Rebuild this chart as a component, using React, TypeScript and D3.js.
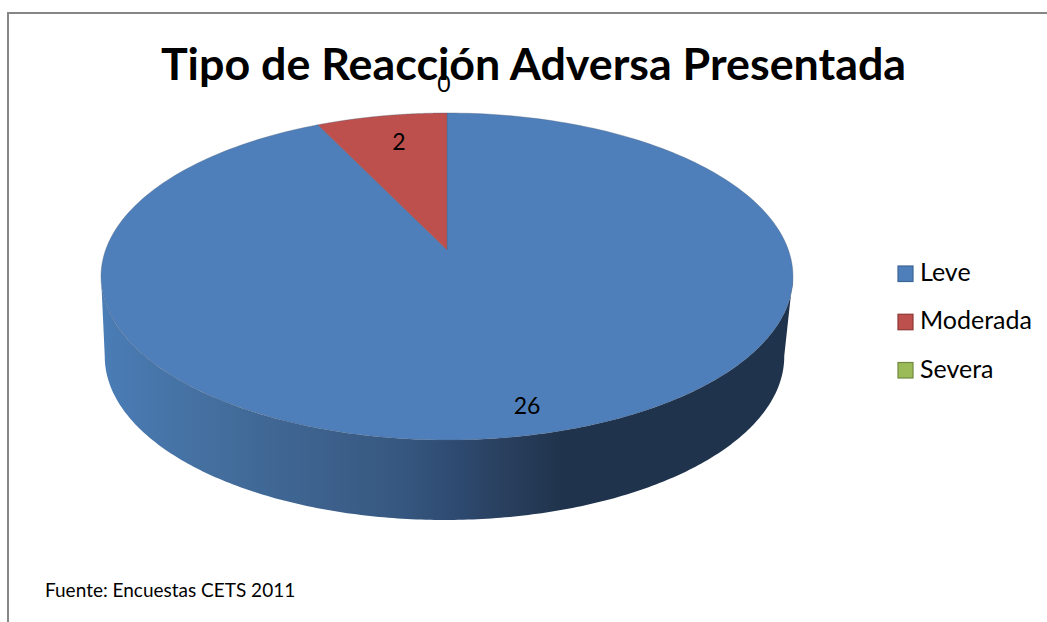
import React from 'react';
import * as d3 from 'd3';

const categories = ['Leve', 'Moderada', 'Severa'];
const values = [26, 2, 0];
const colors = ['#4f7fba', '#bd504d', '#9bbb59'];
const legendStroke = ['#3a6596', '#8c3836', '#71893f'];

const WIDTH = 1047;
const HEIGHT = 622;
const cx = 447;
const cy = 250;
const radiusX = 341.4;
const radiusY = 159.2;
const persp = 0.162;
const depth = 80;

// perspective of the disc: the centre sits above the middle of the ellipse
const project = (a: number, drop = 0, shrink = 1, shift = 0): [number, number] => {
  const u = Math.sin(a);
  const v = Math.cos(a);
  const w = 1 + persp * v;
  return [cx + shift + (u * radiusX * shrink) / w, cy + drop + (-v * radiusY) / w];
};

const line = d3.line();
const sample = (a0: number, a1: number, drop = 0, shrink = 1, shift = 0) =>
  d3.range(0, 241).map((i) => project(a0 + ((a1 - a0) * i) / 240, drop, shrink, shift));

const pie = d3.pie<number>().sort(null).startAngle(0).endAngle(2 * Math.PI);
const arcs = pie(values);

const wallStart = Math.PI / 2 + 0.16;
const wallEnd = (3 * Math.PI) / 2 - 0.16;
const wallPath =
  line([...sample(wallStart, wallEnd), ...sample(wallEnd, wallStart, depth, 0.982, -2.5)]) + 'Z';

const slicePath = (a0: number, a1: number) =>
  line([[cx, cy], ...sample(a0, a1)]) + 'Z';

const wallStops: [string, string][] = [
  ['0%', '#4a7cb5'],
  ['15%', '#446f9f'],
  ['33%', '#3c608b'],
  ['43%', '#365880'],
  ['50%', '#2f4c74'],
  ['58%', '#29405f'],
  ['67%', '#20334c'],
  ['100%', '#1f334d'],
];

const legendY = d3.scalePoint<string>().domain(categories).range([273.5, 370]);
const font = 'Lato, Carlito, "Open Sans", sans-serif';

export default function App() {
  return (
    <svg
      width={WIDTH}
      height={HEIGHT}
      style={{ position: 'absolute', left: 0, top: 0, background: '#fff' }}
      fontFamily={font}
    >
      <defs>
        <linearGradient id="wall" gradientUnits="userSpaceOnUse" x1={cx - radiusX} x2={cx + radiusX} y1={0} y2={0}>
          {wallStops.map(([offset, c]) => (
            <stop key={offset} offset={offset} stopColor={c} />
          ))}
        </linearGradient>
      </defs>

      <path d={`M8,${HEIGHT}V13H${WIDTH}`} fill="none" stroke="#868686" strokeWidth={2} />

      <path d={wallPath} fill="url(#wall)" />
      {arcs.map((d, i) =>
        d.value > 0 ? (
          <path
            key={categories[i]}
            d={slicePath(d.startAngle, d.endAngle)}
            fill={colors[i]}
            stroke="#4a5f7a"
            strokeOpacity={0.45}
            strokeWidth={0.8}
          />
        ) : null
      )}

      <text x={533.5} y={80} textAnchor="middle" fontSize={44.8} fontWeight={700} fill="#000">
        Tipo de Reacción Adversa Presentada
      </text>

      <text x={444} y={92} textAnchor="middle" fontSize={23} fill="#000">{values[2]}</text>
      <text x={399} y={150} textAnchor="middle" fontSize={23} fill="#000">{values[1]}</text>
      <text x={527} y={414} textAnchor="middle" fontSize={23} fill="#000">{values[0]}</text>

      {categories.map((c, i) => (
        <g key={c} transform={`translate(0,${legendY(c)})`}>
          <rect x={898} y={-7.5} width={15} height={15.5} fill={colors[i]} stroke={legendStroke[i]} strokeWidth={1.2} />
          <text x={920} y={7.5} fontSize={25} fill="#000">{c}</text>
        </g>
      ))}

      <text x={45} y={597} fontSize={19} fill="#000">Fuente: Encuestas CETS 2011</text>
    </svg>
  );
}
